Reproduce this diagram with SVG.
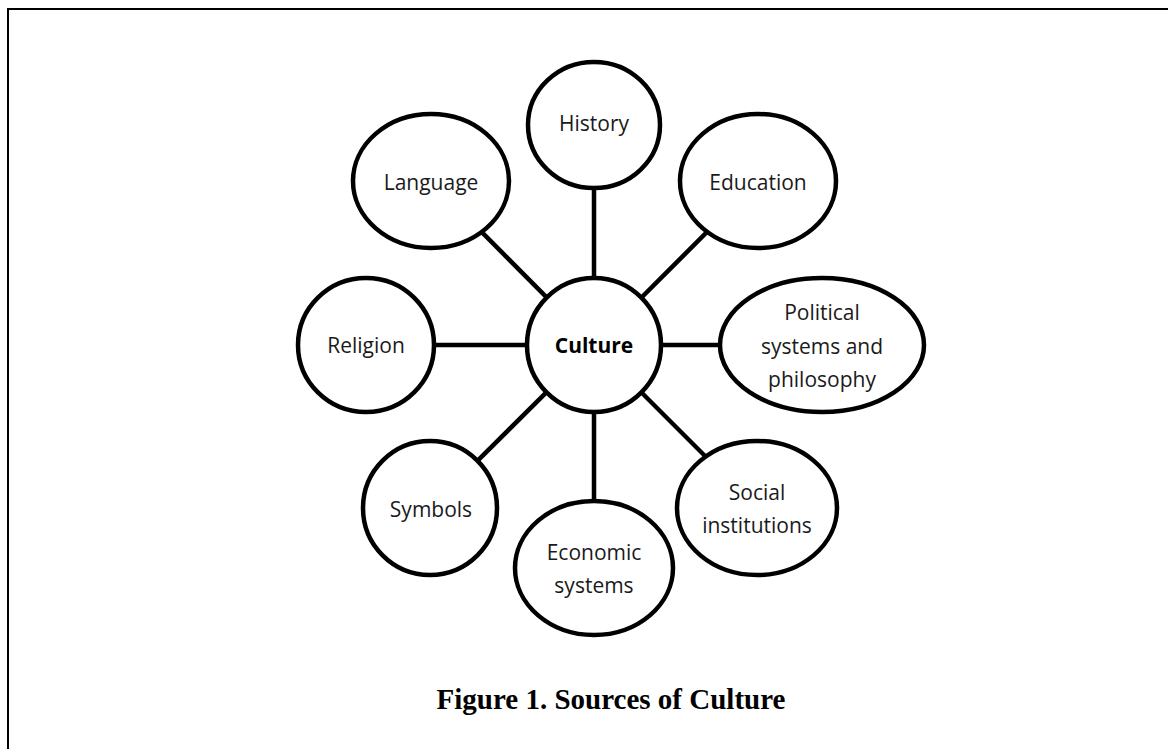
<svg xmlns="http://www.w3.org/2000/svg" width="1168" height="749" viewBox="0 0 1168 749">
  <style>
    .node { fill: #ffffff; stroke: #000000; stroke-width: 4.5; }
    .link { stroke: #000000; stroke-width: 4.5; fill: none; }
    .label { font-family: "Open Sans", "Noto Sans", "DejaVu Sans", sans-serif; font-size: 21px; fill: #1a1a1a; text-anchor: middle; }
    .hub { font-weight: bold; fill: #000000; }
    .caption { font-family: "Liberation Serif", "Times New Roman", serif; font-size: 29px; font-weight: bold; fill: #000000; text-anchor: middle; }
  </style>
  <rect width="1168" height="749" fill="#ffffff"/>
  <!-- frame: only the top and left edges fall inside the canvas -->
  <path d="M8 749 V9 H1168" fill="none" stroke="#000000" stroke-width="2"/>

  <g id="connectors">
    <line class="link" x1="594" y1="345" x2="594" y2="125"/>
    <line class="link" x1="594" y1="345" x2="431" y2="181"/>
    <line class="link" x1="594" y1="345" x2="758" y2="181"/>
    <line class="link" x1="594" y1="345" x2="366" y2="345"/>
    <line class="link" x1="594" y1="345" x2="822" y2="345"/>
    <line class="link" x1="594" y1="345" x2="430" y2="508"/>
    <line class="link" x1="594" y1="345" x2="594" y2="568"/>
    <line class="link" x1="594" y1="345" x2="757" y2="508"/>
  </g>

  <g id="culture">
    <ellipse class="node" cx="594" cy="345" rx="67" ry="67"/>
    <text class="label hub" x="594" y="353">Culture</text>
  </g>
  <g id="history">
    <ellipse class="node" cx="594" cy="125" rx="66" ry="63"/>
    <text class="label" x="594" y="131">History</text>
  </g>
  <g id="language">
    <ellipse class="node" cx="431" cy="181" rx="78" ry="67"/>
    <text class="label" x="431" y="190">Language</text>
  </g>
  <g id="education">
    <ellipse class="node" cx="758" cy="181" rx="78" ry="67"/>
    <text class="label" x="758" y="190">Education</text>
  </g>
  <g id="religion">
    <ellipse class="node" cx="366" cy="345" rx="68" ry="67"/>
    <text class="label" x="366" y="353">Religion</text>
  </g>
  <g id="political">
    <ellipse class="node" cx="822" cy="345" rx="102" ry="67"/>
    <text class="label" x="822" y="320">Political</text>
    <text class="label" x="822" y="354">systems and</text>
    <text class="label" x="822" y="387">philosophy</text>
  </g>
  <g id="symbols">
    <ellipse class="node" cx="430" cy="508" rx="67" ry="67"/>
    <text class="label" x="431" y="517">Symbols</text>
  </g>
  <g id="economic">
    <ellipse class="node" cx="594" cy="568" rx="79" ry="67"/>
    <text class="label" x="594" y="560">Economic</text>
    <text class="label" x="594" y="593">systems</text>
  </g>
  <g id="social">
    <ellipse class="node" cx="757" cy="508" rx="80" ry="67"/>
    <text class="label" x="757" y="500">Social</text>
    <text class="label" x="757" y="533">institutions</text>
  </g>

  <text class="caption" x="611" y="709">Figure 1. Sources of Culture</text>
</svg>
